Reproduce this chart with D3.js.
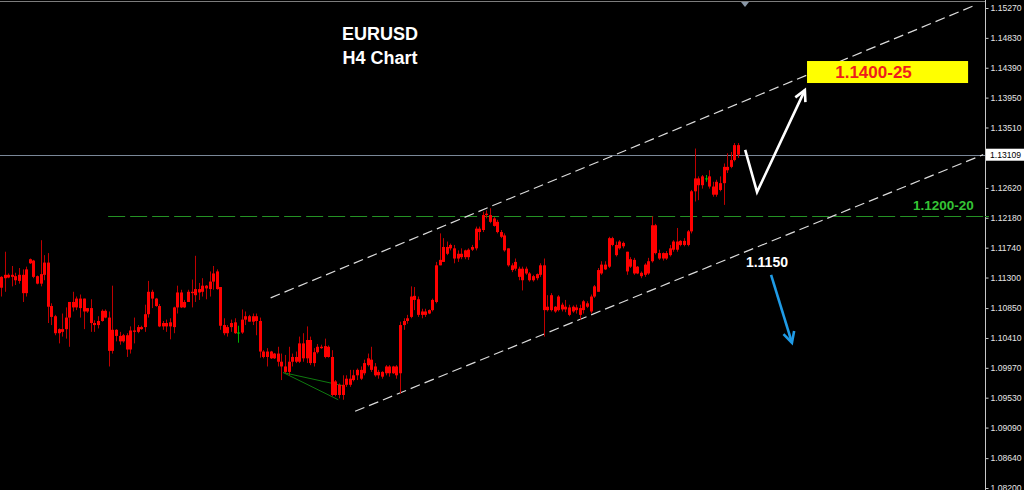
<!DOCTYPE html>
<html>
<head>
<meta charset="utf-8">
<script src="https://cdn.jsdelivr.net/npm/d3@7/dist/d3.min.js"></script>
<style>
  html, body { margin: 0; padding: 0; background: #000; }
  svg { display: block; }
</style>
</head>
<body>
<svg id="chart" width="1024" height="490"></svg>
<script>
// ---------------- DATA ----------------
// EURUSD H4 candles: [open, high, low, close]
const ohlc = [
 [1.1131,1.1132,1.1102,1.1115],[1.1134,1.1168,1.1109,1.1129],[1.1130,1.1136,1.1129,1.1134],[1.1134,1.1147,1.1117,1.1131],
 [1.1132,1.1137,1.1119,1.1126],[1.1125,1.1144,1.1121,1.1134],[1.1134,1.1142,1.1094,1.1107],[1.1107,1.1146,1.1102,1.1142],
 [1.1151,1.1158,1.1150,1.1157],[1.1155,1.1156,1.1129,1.1131],[1.1132,1.1133,1.1120,1.1121],[1.1121,1.1185,1.1117,1.1135],
 [1.1134,1.1163,1.1126,1.1152],[1.1152,1.1166,1.1063,1.1087],[1.1088,1.1092,1.1060,1.1072],[1.1073,1.1075,1.1045,1.1048],
 [1.1048,1.1055,1.1033,1.1054],[1.1054,1.1077,1.1043,1.1050],[1.1054,1.1086,1.1040,1.1071],[1.1071,1.1094,1.1028,1.1094],
 [1.1094,1.1109,1.1080,1.1086],[1.1086,1.1102,1.1082,1.1099],[1.1099,1.1105,1.1071,1.1085],[1.1099,1.1099,1.1054,1.1080],
 [1.1080,1.1085,1.1078,1.1085],[1.1085,1.1098,1.1050,1.1063],[1.1063,1.1067,1.1050,1.1060],[1.1060,1.1073,1.1055,1.1066],
 [1.1066,1.1083,1.1065,1.1081],[1.1081,1.1083,1.1070,1.1071],[1.1071,1.1080,1.0999,1.1022],[1.1022,1.1118,1.1018,1.1053],
 [1.1053,1.1054,1.1036,1.1044],[1.1044,1.1050,1.1031,1.1036],[1.1036,1.1047,1.1034,1.1045],[1.1045,1.1048,1.1013,1.1024],
 [1.1024,1.1058,1.1018,1.1052],[1.1052,1.1071,1.1033,1.1050],[1.1050,1.1060,1.1048,1.1057],[1.1057,1.1059,1.1053,1.1054],
 [1.1057,1.1090,1.1050,1.1076],[1.1076,1.1125,1.1071,1.1109],[1.1109,1.1112,1.1085,1.1099],[1.1099,1.1100,1.1087,1.1088],
 [1.1088,1.1091,1.1057,1.1058],[1.1058,1.1066,1.1053,1.1063],[1.1063,1.1068,1.1050,1.1058],[1.1058,1.1070,1.1039,1.1064],
 [1.1057,1.1087,1.1048,1.1086],[1.1086,1.1118,1.1077,1.1108],[1.1108,1.1112,1.1085,1.1086],[1.1086,1.1097,1.1085,1.1094],
 [1.1094,1.1112,1.1094,1.1109],[1.1109,1.1127,1.1086,1.1107],[1.1104,1.1162,1.1094,1.1113],[1.1113,1.1122,1.1097,1.1108],
 [1.1109,1.1129,1.1102,1.1118],[1.1118,1.1119,1.1098,1.1114],[1.1113,1.1139,1.1102,1.1124],[1.1124,1.1147,1.1112,1.1136],
 [1.1139,1.1142,1.1112,1.1113],[1.1116,1.1116,1.1053,1.1059],[1.1060,1.1070,1.1045,1.1048],[1.1048,1.1060,1.1043,1.1057],
 [1.1057,1.1068,1.1050,1.1063],[1.1064,1.1070,1.1047,1.1048],[1.1049,1.1059,1.1034,1.1049],[1.1049,1.1083,1.1047,1.1068],
 [1.1068,1.1080,1.1060,1.1073],[1.1073,1.1075,1.1065,1.1065],[1.1065,1.1077,1.1060,1.1073],[1.1073,1.1077,1.1045,1.1066],
 [1.1066,1.1071,1.1012,1.1021],
 [1.1021,1.1023,1.1011,1.1013],[1.1013,1.1026,1.0999,1.1021],[1.1021,1.1022,1.1010,1.1011],[1.1011,1.1019,1.1010,1.1018],
 [1.1018,1.1028,1.0999,1.1006],[1.1006,1.1018,1.0979,1.0999],[1.0999,1.1016,1.0989,1.0991],[1.0991,1.1028,1.0986,1.1006],
 [1.1006,1.1018,1.0999,1.1013],[1.1013,1.1021,1.1004,1.1006],[1.1006,1.1043,1.1004,1.1033],[1.1033,1.1048,1.1006,1.1011],
 [1.1011,1.1058,1.1004,1.1038],[1.1038,1.1043,1.1001,1.1004],[1.1004,1.1026,1.0999,1.1020],[1.1020,1.1032,1.1018,1.1028],
 [1.1028,1.1031,1.1025,1.1026],[1.1029,1.1040,1.1011,1.1013],[1.1013,1.1030,1.1012,1.1028],[1.1013,1.1023,1.0955,1.0957],
 [1.0957,1.0979,1.0955,1.0977],[1.0972,1.0974,1.0952,1.0957],[1.0957,1.0986,1.0950,1.0972],[1.0972,1.0986,1.0969,1.0981],
 [1.0981,1.0994,1.0969,1.0972],[1.0979,1.0994,1.0977,1.0986],[1.0986,1.0996,1.0979,1.0994],[1.0994,1.0999,1.0979,1.0981],
 [1.0989,1.1009,1.0986,1.1004],[1.1001,1.1018,1.0999,1.1011],[1.1009,1.1028,1.0991,1.0994],[1.0999,1.1004,1.0984,1.0986],
 [1.0986,1.0994,1.0981,1.0991],[1.0991,1.0992,1.0981,1.0984],[1.0989,1.1001,1.0986,1.0999],[1.0999,1.1001,1.0984,1.0989],
 [1.0989,1.1000,1.0988,1.0999],[1.0999,1.1001,1.0981,1.0986],[1.0989,1.1065,1.0959,1.1060],
 [1.1060,1.1070,1.1053,1.1066],[1.1066,1.1075,1.1062,1.1070],[1.1072,1.1117,1.1070,1.1102],[1.1097,1.1116,1.1082,1.1103],
 [1.1098,1.1102,1.1072,1.1075],[1.1075,1.1084,1.1070,1.1080],[1.1080,1.1084,1.1072,1.1075],[1.1077,1.1083,1.1076,1.1082],
 [1.1082,1.1099,1.1080,1.1097],[1.1094,1.1153,1.1092,1.1148],[1.1148,1.1195,1.1148,1.1156],[1.1153,1.1188,1.1153,1.1175],
 [1.1175,1.1183,1.1163,1.1165],[1.1173,1.1180,1.1170,1.1178],[1.1173,1.1178,1.1151,1.1158],[1.1158,1.1170,1.1153,1.1165],
 [1.1165,1.1173,1.1157,1.1160],[1.1160,1.1171,1.1157,1.1170],[1.1171,1.1173,1.1156,1.1160],[1.1171,1.1178,1.1169,1.1175],
 [1.1173,1.1205,1.1170,1.1202],[1.1202,1.1205,1.1185,1.1197],[1.1200,1.1227,1.1197,1.1222],[1.1222,1.1229,1.1217,1.1224],
 [1.1222,1.1232,1.1210,1.1212],[1.1217,1.1219,1.1205,1.1206],[1.1212,1.1215,1.1195,1.1197],[1.1197,1.1200,1.1188,1.1190],
 [1.1192,1.1195,1.1168,1.1170],[1.1173,1.1173,1.1146,1.1148],[1.1148,1.1151,1.1138,1.1141],[1.1143,1.1158,1.1140,1.1153],
 [1.1143,1.1146,1.1126,1.1131],[1.1126,1.1146,1.1111,1.1143],[1.1143,1.1146,1.1134,1.1136],[1.1136,1.1138,1.1124,1.1126],
 [1.1126,1.1134,1.1124,1.1132],[1.1129,1.1136,1.1126,1.1135],[1.1134,1.1151,1.1131,1.1148],[1.1148,1.1158,1.1043,1.1082],
 [1.1082,1.1104,1.1080,1.1087],[1.1082,1.1107,1.1080,1.1104],[1.1087,1.1088,1.1078,1.1080],[1.1082,1.1104,1.1080,1.1102],
 [1.1090,1.1093,1.1080,1.1083],[1.1083,1.1097,1.1079,1.1087],[1.1086,1.1090,1.1073,1.1075],[1.1080,1.1089,1.1078,1.1087],
 [1.1086,1.1090,1.1077,1.1082],[1.1085,1.1090,1.1068,1.1075],[1.1082,1.1097,1.1077,1.1095],[1.1092,1.1095,1.1085,1.1087],
 [1.1080,1.1105,1.1077,1.1102],[1.1102,1.1119,1.1100,1.1117],[1.1109,1.1144,1.1109,1.1141],[1.1136,1.1154,1.1134,1.1149],
 [1.1149,1.1154,1.1141,1.1142],[1.1146,1.1190,1.1144,1.1188],[1.1188,1.1190,1.1176,1.1178],[1.1178,1.1183,1.1161,1.1163],
 [1.1173,1.1185,1.1171,1.1183],[1.1181,1.1183,1.1173,1.1176],[1.1168,1.1168,1.1134,1.1139],[1.1146,1.1160,1.1144,1.1157],
 [1.1156,1.1159,1.1134,1.1136],[1.1146,1.1147,1.1135,1.1136],[1.1137,1.1139,1.1129,1.1132],[1.1134,1.1151,1.1131,1.1149],
 [1.1136,1.1159,1.1134,1.1154],
 [1.1154,1.1220,1.1152,1.1207],[1.1207,1.1209,1.1164,1.1166],[1.1166,1.1171,1.1156,1.1158],[1.1158,1.1167,1.1155,1.1166],
 [1.1166,1.1169,1.1156,1.1158],[1.1163,1.1178,1.1161,1.1173],[1.1171,1.1185,1.1168,1.1183],[1.1183,1.1203,1.1168,1.1171],
 [1.1178,1.1185,1.1176,1.1184],[1.1184,1.1188,1.1176,1.1178],[1.1178,1.1200,1.1176,1.1198],[1.1198,1.1259,1.1195,1.1257],
 [1.1257,1.1320,1.1242,1.1276],[1.1276,1.1279,1.1244,1.1266],[1.1266,1.1281,1.1261,1.1279],[1.1276,1.1281,1.1271,1.1276],
 [1.1279,1.1288,1.1261,1.1264],[1.1264,1.1271,1.1249,1.1252],[1.1252,1.1274,1.1249,1.1271],[1.1269,1.1279,1.1257,1.1259],
 [1.1269,1.1298,1.1237,1.1293],[1.1293,1.1313,1.1284,1.1288],[1.1293,1.1315,1.1291,1.1303],[1.1303,1.1328,1.1301,1.1325],
 [1.1325,1.1328,1.1306,1.1311]
];

// price axis tick labels
const tickValues = [1.15270,1.14830,1.14390,1.13950,1.13510,1.12620,1.12180,1.11740,1.11300,
                    1.10850,1.10410,1.09970,1.09530,1.09090,1.08640,1.08200];
const priceMin = 1.08200, priceMax = 1.15270;
const currentPrice = 1.13109;

// drawn objects: [barIndex, price]
const upperChannel = [[75.0, 1.1100], [270.9, 1.1531]];
const lowerChannel = [[98.5, 1.0933], [273.2, 1.1311]];
const supportLevel = [[29.8, 1.12207], [273.5, 1.12207]];
const fanLineA = [[78.5, 1.0990], [93.8, 1.0950]];
const fanLineB = [[78.5, 1.0990], [95.7, 1.0970]];
const bullPath = [[207.0, 1.1318], [210.3, 1.1256], [223.6, 1.1406]];
const bearPath = [[214.2, 1.1134], [220.0, 1.1034]];
const targetBox = [[224.2, 1.14489], [269.0, 1.14165]];

// annotation texts with their anchor [barIndex, price]
const titleLines = ["EURUSD", "H4 Chart"];
const targetText = "1.1400-25", targetAnchor = [242.7, 1.14232];
const supportText = "1.1200-20", supportAnchor = [253.7, 1.12295];
const bearText = "1.1150", bearAnchor = [207.2, 1.11456];

// ---------------- CHART ----------------
const W = 1024, H = 490, axisX = 985;
const FONT = "Liberation Sans, Arial, sans-serif";
const svg = d3.select("#chart");
svg.append("rect").attr("width", W).attr("height", H).attr("fill", "#000");

const x = d3.scaleLinear().domain([0, ohlc.length - 1]).range([1, 738]);
const y = d3.scaleLinear().domain([priceMin, priceMax]).range([488, 8]);
const line = d3.line().x(d => x(d[0])).y(d => y(d[1]));

const plot = svg.append("g");

// chart frame top line
plot.append("line").attr("x1", 0).attr("x2", axisX).attr("y1", 1.5).attr("y2", 1.5)
  .attr("stroke", "#7c7c7c").attr("stroke-width", 1);

// current price line
plot.append("line").attr("x1", 0).attr("x2", axisX)
  .attr("y1", Math.round(y(currentPrice)) + 0.5).attr("y2", Math.round(y(currentPrice)) + 0.5)
  .attr("stroke", "#7a8798").attr("stroke-width", 1);

// support dashed level
const sy = Math.round(y(supportLevel[0][1])) + 0.5;
plot.append("line")
  .attr("x1", x(supportLevel[0][0])).attr("x2", x(supportLevel[1][0]))
  .attr("y1", sy).attr("y2", sy)
  .attr("stroke", "#249124").attr("stroke-width", 1.1)
  .attr("stroke-dasharray", "17,5");

// channel lines
[upperChannel, lowerChannel].forEach(ch => {
  plot.append("path").datum(ch).attr("d", line)
    .attr("fill", "none").attr("stroke", "#dcdcdc").attr("stroke-width", 1.2)
    .attr("stroke-dasharray", "10,5");
});

// fan lines
[fanLineA, fanLineB].forEach(fl => {
  plot.append("path").datum(fl).attr("d", line)
    .attr("fill", "none").attr("stroke", "#0f7a0f").attr("stroke-width", 1);
});

// candles
const bw = 3;
const cg = plot.append("g");
cg.selectAll("line.wick").data(ohlc).join("line").attr("class", "wick")
  .attr("x1", (d, i) => Math.round(x(i)) + 0.5).attr("x2", (d, i) => Math.round(x(i)) + 0.5)
  .attr("y1", d => y(d[1])).attr("y2", d => y(d[2]))
  .attr("stroke", d => d[0] === d[3] ? "#00b000" : "#c00000").attr("stroke-width", 1);
cg.selectAll("rect.body").data(ohlc).join("rect").attr("class", "body")
  .attr("x", (d, i) => Math.round(x(i)) + 0.5 - bw / 2)
  .attr("width", bw)
  .attr("y", d => y(Math.max(d[0], d[3])))
  .attr("height", d => Math.max(1, y(Math.min(d[0], d[3])) - y(Math.max(d[0], d[3]))))
  .attr("fill", d => d[0] === d[3] ? "#00c000" : "#ff0000");

// arrows
function arrow(pts, color) {
  plot.append("path").datum(pts).attr("d", line)
    .attr("fill", "none").attr("stroke", color).attr("stroke-width", 2.6)
    .attr("stroke-linejoin", "miter").attr("stroke-linecap", "butt");
  const a = pts[pts.length - 2], b = pts[pts.length - 1];
  const tx = x(b[0]), ty = y(b[1]);
  const dx = x(a[0]) - tx, dy = y(a[1]) - ty, len = Math.hypot(dx, dy);
  const ux = dx / len, uy = dy / len, L = 12, ang = Math.PI / 6.5;
  const r = (s) => [tx + L * (ux * Math.cos(s) - uy * Math.sin(s)), ty + L * (ux * Math.sin(s) + uy * Math.cos(s))];
  const p1 = r(ang), p2 = r(-ang);
  plot.append("path")
    .attr("d", `M${p1[0]},${p1[1]}L${tx},${ty}L${p2[0]},${p2[1]}`)
    .attr("fill", "none").attr("stroke", color).attr("stroke-width", 2.6)
    .attr("stroke-linejoin", "miter");
}
arrow(bullPath, "#ffffff");
arrow(bearPath, "#1f9be6");

// target box
plot.append("rect")
  .attr("x", x(targetBox[0][0])).attr("y", y(targetBox[0][1]))
  .attr("width", x(targetBox[1][0]) - x(targetBox[0][0]))
  .attr("height", y(targetBox[1][1]) - y(targetBox[0][1]))
  .attr("fill", "#ffff00");
plot.append("text").attr("x", x(targetAnchor[0])).attr("y", y(targetAnchor[1]))
  .attr("text-anchor", "middle").attr("font-family", FONT)
  .attr("font-weight", "bold").attr("font-size", 17).attr("fill", "#ee1c1c").text(targetText);

// support text
plot.append("text").attr("x", x(supportAnchor[0])).attr("y", y(supportAnchor[1]))
  .attr("font-family", FONT)
  .attr("font-weight", "bold").attr("font-size", 13.5).attr("fill", "#35c435").text(supportText);

// bear text
plot.append("text").attr("x", x(bearAnchor[0])).attr("y", y(bearAnchor[1]))
  .attr("font-family", FONT)
  .attr("font-weight", "bold").attr("font-size", 14).attr("fill", "#ffffff").text(bearText);

// title
svg.append("text").attr("x", 380).attr("y", 39.5).attr("text-anchor", "middle")
  .attr("font-family", FONT).attr("font-weight", "bold")
  .attr("font-size", 18).attr("fill", "#ffffff").text(titleLines[0]);
svg.append("text").attr("x", 380).attr("y", 64).attr("text-anchor", "middle")
  .attr("font-family", FONT).attr("font-weight", "bold")
  .attr("font-size", 18).attr("fill", "#ffffff").text(titleLines[1]);

// shift marker triangle at top
const sx = x(ohlc.length - 1) + 7;
svg.append("path").attr("d", `M${sx - 4},2L${sx + 4},2L${sx},7Z`).attr("fill", "#8a98a8");

// price axis
svg.append("line").attr("x1", axisX + 0.5).attr("x2", axisX + 0.5).attr("y1", 0).attr("y2", H)
  .attr("stroke", "#c8c8c8").attr("stroke-width", 1);
const axis = d3.axisRight(y).tickValues(tickValues).tickSize(3).tickPadding(2)
  .tickFormat(d3.format(".5f"));
const ag = svg.append("g").attr("transform", `translate(${axisX + 0.5},0)`).call(axis);
ag.select(".domain").remove();
ag.selectAll(".tick line").attr("stroke", "#c8c8c8");
ag.selectAll(".tick text").attr("fill", "#e6e6e6")
  .attr("font-family", FONT).attr("font-size", 8.6);

// support marker on axis
svg.append("line").attr("x1", axisX).attr("x2", axisX + 4)
  .attr("y1", sy).attr("y2", sy)
  .attr("stroke", "#249124");

// current price label
const cpy = y(currentPrice);
svg.append("rect").attr("x", axisX + 1).attr("y", cpy - 6).attr("width", 38).attr("height", 12)
  .attr("fill", "#ffffff");
svg.append("text").attr("x", axisX + 5).attr("y", cpy).attr("dy", "0.34em")
  .attr("font-family", FONT).attr("font-size", 8.6)
  .attr("fill", "#000").text(d3.format(".5f")(currentPrice));
</script>
</body>
</html>
